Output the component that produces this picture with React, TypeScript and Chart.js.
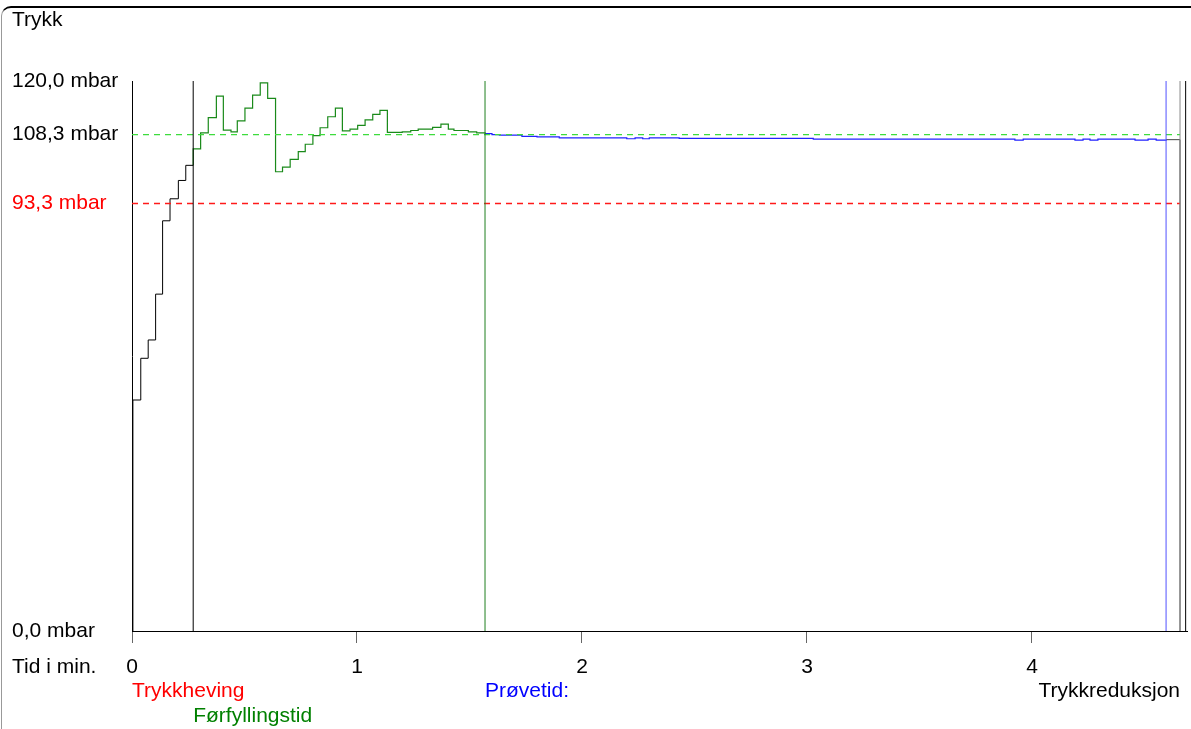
import React, { useEffect, useRef } from "react";
import { Chart, registerables } from "chart.js";

Chart.register(...registerables);

// ---------- data ----------
const yAxisTitle = "Trykk";
const xAxisTitle = "Tid i min.";
const yTickValues = [0, 93.3, 108.3, 120];
const xTickValues = [0, 1, 2, 3, 4];

// Trykkheving (black)
const hevingT = [0, 0.004, 0.039, 0.072, 0.105, 0.136, 0.169, 0.206, 0.239, 0.272];
const hevingV = [0, 50.4, 59.5, 63.5, 73.5, 89.5, 94.3, 98.3, 101.6, 101.6];

// Førfyllingstid (green)
const forfyllingT = [
  0.272, 0.272, 0.305, 0.339, 0.375, 0.406, 0.44, 0.468, 0.502, 0.536, 0.57, 0.603, 0.638,
  0.669, 0.703, 0.739, 0.77, 0.804, 0.836, 0.87, 0.904, 0.935, 0.969, 1.003, 1.036,
  1.07, 1.102, 1.135, 1.201, 1.239, 1.272, 1.336, 1.373, 1.406, 1.431, 1.495, 1.532, 1.569,
];
const forfyllingV = [
  101.6, 105.2, 108.7, 112.0, 116.7, 109.3, 108.9, 111.3, 114.1, 116.9, 119.6, 116.2, 100.2,
  101.2, 102.9, 104.6, 106.2, 108.1, 109.8, 112.2, 114.1, 109.1, 109.5, 110.3, 111.5,
  112.7, 113.6, 108.8, 108.9, 109.2, 109.5, 109.9, 110.6, 109.5, 109.2, 108.9, 108.7, 108.5,
];

// Prøvetid (blue)
const provetidT = [
  1.569, 1.6, 1.633, 1.733, 1.8, 1.899, 2.199, 2.236, 2.27, 2.299, 2.432, 3.028,
  3.924, 3.961, 4.191, 4.227, 4.258, 4.293, 4.458, 4.516, 4.552, 4.596,
];
const provetidV = [
  108.5, 108.3, 108.2, 107.9, 107.8, 107.6, 107.4, 107.6, 107.4, 107.6, 107.5, 107.3,
  107.1, 107.3, 107.1, 107.3, 107.1, 107.3, 107.1, 107.3, 107.1, 107.2,
];

// Trykkreduksjon
const reduksjonT = [4.596, 4.658];
const reduksjonV = [107.2, 0];

// reference levels
const refLevels = [108.3, 93.3];
const refColors = ["#3ddc3d", "#ff1a1a"];
const refWidths = [1.2, 1.5];
const refEnd = 4.658;

// vertical phase markers
const markerTimes = [0.272, 1.569, 4.596, 4.658, 4.683];
const markerColors = ["#000000", "#1f7f1f", "#5050ff", "#8a8a8a", "#000000"];

// phase labels
const phaseNames = ["Trykkheving", "Førfyllingstid", "Prøvetid:", "Trykkreduksjon"];
const phaseTimes = [0, 0.272, 1.569, 4.658];
const phaseColors = ["#ff0000", "#008000", "#0000ff", "#000000"];
const phaseAlign = ["left", "left", "left", "right"];
const phaseRow = [0, 1, 0, 0];

const FONT = '"Liberation Sans", Arial, sans-serif';

function pts(ts: number[], vs: number[]) {
  return ts.map((t, i) => ({ x: t, y: vs[i] }));
}

const textPlugin = {
  id: "extraTexts",
  afterDraw(chart: any) {
    const ctx = chart.ctx;
    const xs = chart.scales.x;
    ctx.save();
    ctx.font = `21px ${FONT}`;
    ctx.textBaseline = "alphabetic";
    ctx.fillStyle = "#000";
    ctx.textAlign = "left";
    ctx.fillText(yAxisTitle, 12, 26);
    ctx.fillText(xAxisTitle, 12, 673);
    phaseNames.forEach((name, i) => {
      ctx.fillStyle = phaseColors[i];
      ctx.textAlign = phaseAlign[i];
      const x = xs.getPixelForValue(phaseTimes[i]);
      ctx.fillText(name, x, phaseRow[i] === 0 ? 697 : 722);
    });
    ctx.restore();
  },
};

export default function App() {
  const ref = useRef<HTMLCanvasElement>(null);

  useEffect(() => {
    document.body.style.margin = "0";
    document.body.style.overflow = "hidden";
    const datasets: any[] = [];

    markerTimes.forEach((t, i) => {
      datasets.push({
        data: [
          { x: t, y: 0 },
          { x: t, y: 120 },
        ],
        borderColor: markerColors[i],
        borderWidth: 1,
        pointRadius: 0,
      });
    });
    refLevels.forEach((v, i) => {
      datasets.push({
        data: [
          { x: 0, y: v },
          { x: refEnd, y: v },
        ],
        borderColor: refColors[i],
        borderWidth: refWidths[i],
        borderDash: [6, 5],
        pointRadius: 0,
      });
    });
    datasets.push({ data: pts(hevingT, hevingV), borderColor: "#000000", borderWidth: 1, pointRadius: 0, stepped: "before" });
    datasets.push({ data: pts(forfyllingT, forfyllingV), borderColor: "#1a8a1a", borderWidth: 1.2, pointRadius: 0, stepped: "before" });
    datasets.push({ data: pts(provetidT, provetidV), borderColor: "#2020ff", borderWidth: 1.2, pointRadius: 0, stepped: "before" });
    datasets.push({ data: pts(reduksjonT, reduksjonV), borderColor: "#444444", borderWidth: 1, pointRadius: 0, stepped: "before" });

    Chart.defaults.font.family = FONT;
    Chart.defaults.font.size = 21;

    const chart = new Chart(ref.current!, {
      type: "line",
      data: { datasets },
      options: {
        animation: false,
        responsive: false,
        devicePixelRatio: 1,
        layout: { padding: { left: 12, top: 81, right: 4, bottom: 0 } },
        plugins: { legend: { display: false }, tooltip: { enabled: false }, title: { display: false } },
        scales: {
          x: {
            type: "linear",
            min: 0,
            max: 4.689,
            afterBuildTicks: (s: any) => {
              s.ticks = xTickValues.map((v) => ({ value: v }));
            },
            afterFit: (s: any) => {
              s.height = 98;
            },
            grid: { display: true, drawOnChartArea: false, tickLength: 12, tickColor: "#666666" },
            border: { display: true, color: "#000000", width: 1 },
            ticks: {
              color: "#000000",
              padding: 12,
              maxRotation: 0,
              font: { size: 21, family: FONT },
              callback: (v: any) => String(v),
            },
          },
          y: {
            type: "linear",
            min: 0,
            max: 120,
            afterBuildTicks: (s: any) => {
              s.ticks = yTickValues.map((v) => ({ value: v }));
            },
            afterFit: (s: any) => {
              s.width = 120;
            },
            grid: { display: false },
            border: { display: true, color: "#000000", width: 1 },
            ticks: {
              crossAlign: "far",
              padding: 4,
              font: { size: 21, family: FONT },
              color: (c: any) => (c.tick && Math.abs(c.tick.value - 93.3) < 0.01 ? "#ff0000" : "#000000"),
              callback: (v: any) => Number(v).toFixed(1).replace(".", ",") + " mbar",
            },
          },
        },
      },
      plugins: [textPlugin],
    } as any);
    return () => chart.destroy();
  }, []);

  return (
    <div style={{ position: "relative", width: 1191, height: 729, background: "#fff", overflow: "hidden" }}>
      <canvas ref={ref} width={1191} height={729} style={{ display: "block" }} />
      <div
        style={{
          position: "absolute",
          left: 1,
          top: 6,
          width: 1300,
          height: 900,
          borderTop: "2px solid #000",
          borderLeft: "1px solid #999",
          borderTopLeftRadius: 10,
          pointerEvents: "none",
        }}
      />
    </div>
  );
}
